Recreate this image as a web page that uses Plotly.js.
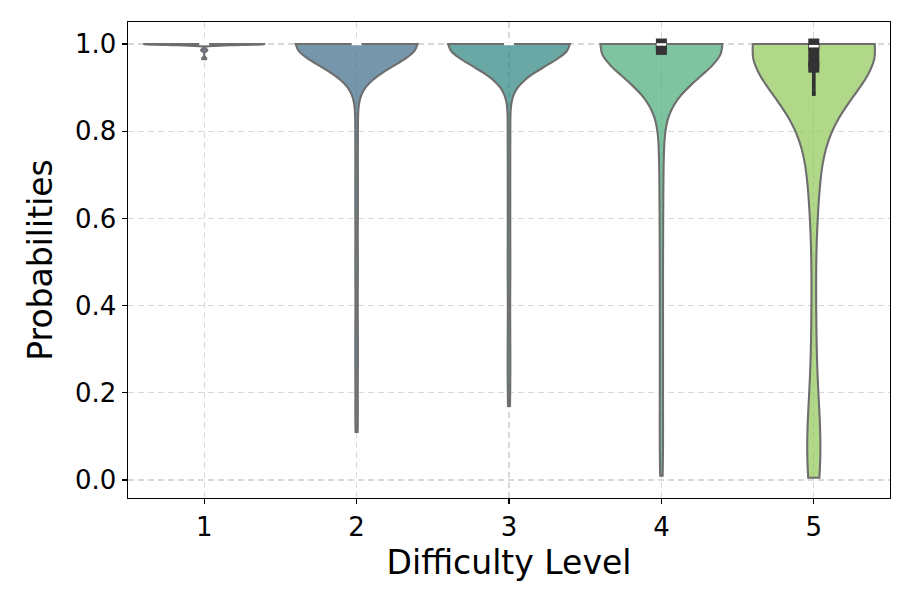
<!DOCTYPE html>
<html><head><meta charset="utf-8">
<script src="https://cdn.plot.ly/plotly-3.0.1.min.js"></script>
<style>html,body{margin:0;padding:0;background:#fff}#chart{width:913px;height:609px}</style>
</head><body><div id="chart"></div>
<script>
// ---------------- data ----------------
const levels = [1, 2, 3, 4, 5];
const tickLabels = ['1', '2', '3', '4', '5'];
const yTicks = [0.0, 0.2, 0.4, 0.6, 0.8, 1.0];

// each level: distinct probability values and how many samples take that value
const level1Values = [0.965, 0.968, 0.984, 0.986, 0.988, 1.0];
const level1Counts = [1, 1, 1, 1, 1, 45];

const level2Values = [0.11, 0.17, 0.25, 0.31, 0.38, 0.46, 0.52, 0.60, 0.66, 0.73, 0.80, 0.86, 1.0];
const level2Counts = [1, 1, 1, 1, 1, 1, 1, 1, 1, 1, 1, 1, 88];

const level3Values = [0.17, 0.24, 0.30, 0.37, 0.45, 0.51, 0.58, 0.65, 0.72, 0.79, 0.85, 1.0];
const level3Counts = [1, 1, 1, 1, 1, 1, 1, 1, 1, 1, 1, 88];

const level4Values = [0.01, 0.08, 0.16, 0.24, 0.32, 0.40, 0.48, 0.56, 0.63, 0.70, 0.76, 0.81, 0.85, 0.89,
                      0.980, 0.981, 0.982, 0.983, 0.984, 0.985, 0.986, 0.987,
                      0.988, 0.990, 0.992, 0.994, 0.996, 0.998, 1.0];
const level4Counts = [1, 1, 1, 1, 1, 1, 1, 1, 1, 1, 1, 1, 1, 1,
                      1, 1, 1, 1, 2, 2, 2, 1,
                      2, 5, 5, 5, 4, 4, 50];

const level5Values = [0.005, 0.02, 0.05, 0.08, 0.12, 0.17, 0.30, 0.43, 0.60,
                      0.68, 0.72, 0.76, 0.80, 0.84, 0.885,
                      0.944, 0.948, 0.951, 0.954, 0.957, 0.960, 0.964, 0.968, 0.972, 0.975,
                      0.978, 0.981, 0.984, 0.987, 0.989, 0.991, 0.993,
                      0.997, 0.998, 0.999, 1.0];
const level5Counts = [1, 1, 1, 1, 1, 1, 1, 1, 1,
                      1, 1, 1, 1, 1, 1,
                      1, 1, 1, 1, 1, 1, 1, 1, 1, 1,
                      1, 1, 1, 1, 1, 1, 1,
                      1, 1, 2, 28];

// ---------------- styles ----------------
const fillColors = ['rgba(80,64,118,0.7)', 'rgba(58,105,135,0.7)', 'rgba(42,131,125,0.7)',
                    'rgba(71,171,119,0.7)', 'rgba(142,199,85,0.7)'];
const bandwidths = [0.0022, 0.05, 0.05, 0.072, 0.105];
const FONT = 'DejaVu Sans, sans-serif';

function expand(vals, counts) {
  const out = [];
  vals.forEach((v, i) => { for (let k = 0; k < counts[i]; k++) out.push(v); });
  return out;
}
function quantile(sorted, p) {
  const pos = (sorted.length - 1) * p;
  const lo = Math.floor(pos), hi = Math.ceil(pos);
  return sorted[lo] + (sorted[hi] - sorted[lo]) * (pos - lo);
}

const samples = [
  expand(level1Values, level1Counts),
  expand(level2Values, level2Counts),
  expand(level3Values, level3Counts),
  expand(level4Values, level4Counts),
  expand(level5Values, level5Counts)
];

const traces = [];
samples.forEach((ys, i) => {
  traces.push({
    type: 'violin', x0: levels[i], y: ys, name: 'Level ' + levels[i],
    width: 0.8, scalemode: 'width', spanmode: 'hard', bandwidth: bandwidths[i],
    points: false, box: {visible: false}, meanline: {visible: false},
    fillcolor: fillColors[i], line: {color: '#6e6e6e', width: 2.1},
    hoverinfo: 'skip', showlegend: false
  });
});

// inner box (seaborn style): whisker, IQR box, white median mark — computed from the data
samples.forEach((ys, i) => {
  const s = ys.slice().sort((a, b) => a - b);
  const q1 = quantile(s, 0.25), med = quantile(s, 0.5), q3 = quantile(s, 0.75);
  const iqr = q3 - q1;
  const lo = s.find(v => v >= q1 - 1.5 * iqr);
  const hi = s.slice().reverse().find(v => v <= q3 + 1.5 * iqr);
  const x = levels[i];
  if (hi > lo) {
    traces.push({type: 'scatter', mode: 'lines+markers', x: [x, x], y: [lo, hi],
      line: {color: '#333333', width: 3.7},
      marker: {symbol: 'square', size: 3.7, color: '#333333', line: {width: 0}},
      hoverinfo: 'skip', showlegend: false});
  }
  if (q3 > q1) {
    traces.push({type: 'scatter', mode: 'lines+markers', x: [x, x], y: [q1, q3],
      line: {color: '#333333', width: 11},
      marker: {symbol: 'square', size: 11, color: '#333333', line: {width: 0}},
      hoverinfo: 'skip', showlegend: false});
  }
  traces.push({type: 'scatter', mode: 'markers', x: [x], y: [med],
    marker: {symbol: 'line-ew', size: 7, color: 'white', line: {color: 'white', width: 2.5}},
    hoverinfo: 'skip', showlegend: false});
});

const axisCommon = {
  showline: true, mirror: true, linecolor: '#000', linewidth: 1.4,
  ticks: 'outside', ticklen: 5, tickwidth: 1.4, tickcolor: '#000',
  showgrid: true, gridcolor: '#d9d9d9', griddash: '6px,4px', gridwidth: 1.1,
  zeroline: false, tickfont: {family: FONT, size: 26, color: '#000'}
};

const layout = {
  width: 913, height: 609,
  margin: {l: 128, r: 23, t: 22, b: 111},
  paper_bgcolor: '#fff', plot_bgcolor: '#fff',
  violinmode: 'overlay',
  showlegend: false,
  xaxis: Object.assign({}, axisCommon, {
    range: [0.5, 5.5], tickmode: 'array', tickvals: levels, ticktext: tickLabels,
    title: {text: 'Difficulty Level', font: {family: FONT, size: 33, color: '#000'}, standoff: 10}
  }),
  yaxis: Object.assign({}, axisCommon, {
    range: [-0.0413, 1.0505], tickmode: 'array', tickvals: yTicks,
    ticktext: yTicks.map(v => v.toFixed(1)),
    title: {text: 'Probabilities', font: {family: FONT, size: 33, color: '#000'}, standoff: 12}
  })
};

Plotly.newPlot('chart', traces, layout, {staticPlot: true, displayModeBar: false});
</script>
</body></html>
